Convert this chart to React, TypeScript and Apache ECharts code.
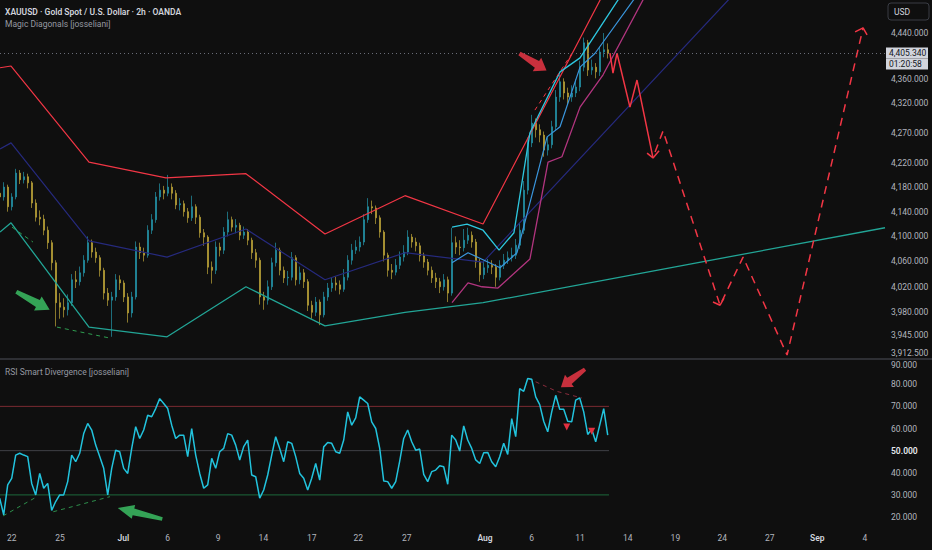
import React, { useEffect, useRef } from "react";
import * as echarts from "echarts";

// ---------- DATA ----------
// x is measured in trading sessions from the "22" (Jun 22) label; bars every 0.25 session
const BAR_START = -0.75;
const BAR_STEP = 0.25;
const FIRST_OPEN = 4170;

const closes = [
  4164, 4180, 4148, 4164, 4203, 4192, 4197, 4187, 4154, 4131,
  4128, 4110, 4090, 4058, 3995, 3988, 3984, 3995, 4031, 4028,
  4042, 4062, 4090, 4075, 4066, 4046, 4010, 3999, 4004, 4031,
  4026, 4004, 3979, 4004, 4083, 4074, 4070, 4110, 4127, 4164,
  4175, 4170, 4180, 4170, 4151, 4153, 4140, 4130, 4148, 4131,
  4106, 4099, 4051, 4046, 4083, 4078, 4107, 4127, 4115, 4118,
  4102, 4107, 4094, 4074, 4062, 4004, 3999, 4020, 4058, 4078,
  4046, 4034, 4035, 4066, 4031, 4042, 4028, 3991, 3980, 3996,
  3976, 4004, 4018, 4026, 4023, 4016, 4035, 4062, 4078, 4083,
  4091, 4127, 4148, 4146, 4130, 4107, 4070, 4046, 4043, 4054,
  4067, 4075, 4099, 4091, 4085, 4069, 4059, 4046, 4034, 4028,
  4020, 4031, 4010, 4090, 4083, 4082, 4094, 4102, 4091, 4059,
  4039, 4050, 4054, 4051, 4035, 4054, 4062, 4066, 4070, 4086,
  4110, 4175, 4253, 4286, 4275, 4266, 4241, 4250, 4280, 4330,
  4356, 4337, 4330, 4337, 4347, 4381, 4423, 4376, 4381, 4373,
  4407, 4411, 4405.34,
];
const highs = [
  4178, 4188, 4184, 4170, 4210, 4208, 4205, 4202, 4190, 4160,
  4142, 4135, 4116, 4094, 4062, 4010, 4002, 4008, 4040, 4045,
  4052, 4070, 4100, 4095, 4082, 4070, 4050, 4018, 4012, 4040,
  4038, 4030, 4010, 4012, 4092, 4090, 4082, 4118, 4136, 4172,
  4186, 4182, 4200, 4186, 4175, 4162, 4158, 4146, 4166, 4152,
  4135, 4112, 4102, 4060, 4092, 4090, 4115, 4140, 4132, 4128,
  4122, 4116, 4112, 4098, 4080, 4066, 4012, 4030, 4066, 4090,
  4082, 4052, 4045, 4075, 4070, 4052, 4048, 4032, 3998, 4004,
  4000, 4012, 4026, 4034, 4036, 4030, 4048, 4070, 4088, 4094,
  4100, 4136, 4162, 4158, 4150, 4134, 4110, 4074, 4056, 4064,
  4076, 4086, 4110, 4104, 4098, 4090, 4074, 4064, 4052, 4042,
  4034, 4040, 4036, 4114, 4100, 4094, 4112, 4114, 4108, 4096,
  4064, 4060, 4064, 4062, 4056, 4062, 4072, 4076, 4082, 4096,
  4122, 4190, 4262, 4300, 4294, 4284, 4272, 4264, 4290, 4342,
  4368, 4362, 4346, 4350, 4360, 4392, 4432, 4428, 4394, 4388,
  4416, 4440, 4422,
];
const lows = [
  4150, 4158, 4140, 4142, 4160, 4185, 4186, 4178, 4146, 4124,
  4118, 4102, 4080, 4046, 3958, 3970, 3972, 3975, 3990, 4018,
  4022, 4036, 4058, 4066, 4058, 4036, 4000, 3990, 3942, 3998,
  4015, 3996, 3964, 3972, 4000, 4064, 4060, 4066, 4104, 4122,
  4158, 4160, 4165, 4160, 4144, 4142, 4132, 4122, 4125, 4120,
  4098, 4085, 4040, 4025, 4040, 4068, 4072, 4100, 4108, 4105,
  4094, 4096, 4086, 4064, 4050, 3992, 3984, 3992, 4015, 4052,
  4038, 4026, 4022, 4030, 4022, 4024, 4018, 3982, 3970, 3974,
  3960, 3972, 3998, 4012, 4014, 4008, 4012, 4030, 4055, 4072,
  4076, 4086, 4122, 4136, 4120, 4098, 4060, 4036, 4032, 4038,
  4048, 4060, 4070, 4082, 4076, 4060, 4050, 4038, 4026, 4018,
  4010, 4014, 3996, 4006, 4072, 4070, 4076, 4088, 4082, 4050,
  4028, 4032, 4042, 4040, 4020, 4030, 4048, 4056, 4060, 4064,
  4080, 4104, 4168, 4246, 4262, 4254, 4230, 4232, 4244, 4274,
  4322, 4326, 4318, 4322, 4330, 4340, 4374, 4366, 4368, 4362,
  4366, 4398, 4396,
];
const rsiValues = [
  28.5, 21.0, 34.5, 37.5, 48.0, 48.8, 48.0, 47.3, 35.2, 30.0,
  39.7, 33.0, 35.2, 23.0, 27.0, 30.0, 30.0, 36.0, 48.0, 45.0,
  48.8, 57.7, 62.3, 59.3, 52.5, 47.3, 42.0, 30.0, 42.0, 50.2,
  49.5, 42.0, 39.7, 51.0, 60.8, 55.5, 59.3, 66.0, 65.3, 69.0,
  73.5, 71.3, 69.0, 61.5, 55.5, 57.0, 57.0, 47.3, 60.0, 48.0,
  39.7, 33.0, 34.5, 46.5, 42.0, 49.5, 51.0, 57.7, 57.0, 52.5,
  45.8, 51.8, 54.8, 39.0, 38.2, 28.5, 32.2, 39.0, 48.0, 56.3,
  51.0, 45.0, 54.0, 53.3, 47.3, 39.7, 37.5, 32.2, 37.5, 44.2,
  36.7, 51.7, 53.7, 53.3, 49.5, 48.8, 54.8, 67.5, 61.5, 64.8,
  74.3, 72.8, 71.3, 63.0, 60.0, 51.0, 36.3, 36.0, 33.0, 36.0,
  45.3, 55.5, 59.3, 54.0, 50.2, 50.7, 39.3, 36.0, 40.5, 41.2,
  43.2, 42.7, 34.8, 57.0, 54.8, 49.8, 61.2, 54.8, 51.0, 45.8,
  44.2, 49.0, 49.2, 45.0, 42.7, 47.2, 53.3, 48.3, 64.5, 56.3,
  78.0, 76.8, 82.6, 82.3, 74.3, 70.8, 63.3, 58.5, 67.5, 75.0,
  68.7, 68.7, 63.3, 63.0, 72.8, 73.8, 67.5, 57.3, 59.7, 54.0,
  61.5, 69.0, 57.0,
];

const dateTickPos = [0, 3.02, 6.98, 9.75, 12.91, 15.73, 18.75, 21.66, 24.69, 29.58, 32.5, 35.52, 38.5, 41.48, 44.41, 47.38, 50.35, 53.33];
const dateTickLabels = ["22", "25", "Jul", "6", "9", "14", "17", "22", "27", "Aug", "6", "11", "14", "19", "24", "27", "Sep", "4"];
const monthNames = ["Jul", "Aug", "Sep"];
const priceTicks = [3912.5, 3945, 3980, 4020, 4060, 4100, 4140, 4180, 4220, 4270, 4320, 4360, 4440];
const rsiTicks = [20, 30, 40, 50, 60, 70, 80, 90];
const LAST_PRICE = 4405.34;
const COUNTDOWN = "01:20:58";

const X_MIN = -0.731;
const X_MAX = 54.58;
const PRICE_MIN = 3909.4;
const PRICE_MAX = 4497.8;
const RSI_MIN = 16.4;
const RSI_MAX = 90.5;
const RSI_END = 37.33;

// diagonals [session, price]
const redDiagonal = [[-0.73, 4380], [-0.04, 4383], [4.83, 4221], [9.64, 4195], [14.64, 4202], [19.58, 4104], [24.58, 4166], [29.46, 4120], [37.39, 4531]];
const navyDiagonal = [[-0.73, 4243], [-0.04, 4253], [4.83, 4093], [9.71, 4067], [14.64, 4112], [19.58, 4031], [24.58, 4074], [29.46, 4059], [46.77, 4558]];
const tealDiagonal = [[-0.73, 4107], [-0.04, 4122], [4.83, 3957], [9.71, 3942], [14.64, 4020], [19.58, 3959], [24.58, 3980], [29.46, 3995], [54.58, 4114]];
const cyanBand = [[27.52, 4115], [28.46, 4120], [29.46, 4110], [30.46, 4078], [31.39, 4106], [32.39, 4270], [34.27, 4373], [35.52, 4397], [38.64, 4530]];
const blueBand = [[27.52, 4058], [28.52, 4074], [30.52, 4050], [31.58, 4074], [33.46, 4263], [34.27, 4280], [35.52, 4381], [36.46, 4405], [39.58, 4526]];
const magentaBand = [[27.52, 3995], [28.52, 4026], [29.39, 4020], [30.39, 4018], [32.39, 4064], [33.52, 4221], [34.39, 4230], [35.52, 4313], [36.96, 4368], [40.21, 4538]];
const redDashTop = [[32.7, 4308], [35.02, 4405]];
const greenDashA = [[0.02, 4115], [1.33, 4091]];
const greenDashB = [[2.83, 3957], [6.14, 3940]];
const projectionSolid = [[37.39, 4405], [37.58, 4371], [37.83, 4405], [38.64, 4313], [39.08, 4359], [40.08, 4228]];
const projectionSolidHead = [[39.71, 4236], [40.08, 4228], [40.46, 4240]];
const projectionDashed = [[40.21, 4238], [40.71, 4273], [44.27, 3991], [45.71, 4067], [48.46, 3914], [53.21, 4449]];
const projectionHeadLow = [[43.83, 3996], [44.27, 3991], [44.52, 4002]];
const projectionHeadTop = [[52.71, 4442], [53.21, 4449], [53.46, 4437]];

const rsiGreenDashA = [[-0.54, 20.5], [1.46, 28.7]];
const rsiGreenDashB = [[2.6, 22.4], [6.14, 29.2]];
const rsiRedDash = [[32.29, 82.6], [34.06, 76.8], [35.63, 73.8]];
const rsiLevels = [
  { value: 70, color: "#7a2a31" },
  { value: 50, color: "#3f4046" },
  { value: 30, color: "#1d6a3c" },
];

const mainArrows = [
  { at: [1.33, 3998], rot: -28.6, size: [38, 16], color: "#34a356" },
  { at: [32.58, 4390], rot: -32, size: [32, 16], color: "#c8303d" },
];
const rsiArrows = [
  { at: [35.08, 82.7], rot: -143.5, size: [30, 15], color: "#c8303d" },
  { at: [8.02, 21.6], rot: 166, size: [46, 14], color: "#34a356" },
];
const rsiTriangles = [[34.69, 60.7], [36.25, 58.8]];

// ---------- STYLE ----------
const BG = "#0f0f0f";
const UP = "#2496aa";
const DOWN = "#bfa63a";
const FONT = "Roboto";
const AXIS_TXT = "#b2b5be";
const ARROW = "path://M0,6 L22,4 L22,0 L34,8 L22,16 L22,12 L0,10 Z";

const fmt3 = (v: number) =>
  Number(v).toLocaleString("en-US", { minimumFractionDigits: 3, maximumFractionDigits: 3 });

function line(data: number[][], color: string, width: number, dash: any = "solid", axis = 0, extra: any = {}) {
  return {
    type: "line",
    xAxisIndex: axis,
    yAxisIndex: axis,
    data,
    symbol: "none",
    showSymbol: false,
    silent: true,
    clip: true,
    z: 3,
    lineStyle: { color, width, type: dash },
    ...extra,
  };
}

function buildOption() {
  const candleData = closes.map((c, i) => {
    const o = i === 0 ? FIRST_OPEN : closes[i - 1];
    return [BAR_START + i * BAR_STEP, o, c, lows[i], highs[i]];
  });
  const rsiData = rsiValues.map((v, i) => [BAR_START + i * BAR_STEP, v]);

  const arrowPoints = (list: any[]) =>
    list.map((a) => ({
      coord: a.at,
      symbol: ARROW,
      symbolSize: a.size,
      symbolRotate: a.rot,
      itemStyle: { color: a.color },
    }));

  const series: any[] = [
    {
      type: "candlestick",
      xAxisIndex: 0,
      yAxisIndex: 0,
      data: candleData,
      barWidth: 1.5,
      z: 2,
      silent: true,
      itemStyle: { color: UP, color0: DOWN, borderColor: UP, borderColor0: DOWN, borderWidth: 0.7 },
      markLine: {
        silent: true,
        symbol: ["none", "none"],
        lineStyle: { color: "#6a6d78", type: [1, 3], width: 1 },
        label: {
          show: true,
          position: "end",
          distance: 1,
          formatter: `{s| }\n{a|${fmt3(LAST_PRICE)}}\n{b|${COUNTDOWN}}`,
          rich: {
            s: { lineHeight: 11, fontSize: 8 },
            a: { backgroundColor: "#d1d4dc", color: "#131722", fontSize: 8.5, fontFamily: FONT, lineHeight: 11, height: 11, width: 36, padding: [0, 3] },
            b: { backgroundColor: "#d1d4dc", color: "#131722", fontSize: 8.5, fontFamily: FONT, lineHeight: 11, height: 11, width: 36, padding: [0, 3] },
          },
        },
        data: [{ yAxis: LAST_PRICE }],
      },
    },
    line(redDiagonal, "#f23645", 1.2),
    line(navyDiagonal, "#262a7e", 1.2),
    line(tealDiagonal, "#22a596", 1.3, "solid", 0, {
      markPoint: { silent: true, label: { show: false }, data: arrowPoints(mainArrows) },
    }),
    line(cyanBand, "#2ec8e0", 1.3),
    line(blueBand, "#3a96dd", 1.2),
    line(magentaBand, "#b2357f", 1.3),
    line(redDashTop, "#f23645", 1, [4, 4]),
    line(greenDashA, "#2e9d50", 1, [4, 4]),
    line(greenDashB, "#2e9d50", 1, [4, 4]),
    line(projectionSolid, "#f23645", 1.5),
    line(projectionSolidHead, "#f23645", 1.5),
    line(projectionDashed, "#f23645", 1.5, [8, 6]),
    line(projectionHeadLow, "#f23645", 1.5),
    line(projectionHeadTop, "#f23645", 1.5),
    // RSI pane
    ...rsiLevels.map((l) => line([[X_MIN, l.value], [RSI_END, l.value]], l.color, 1, "solid", 1, { z: 1 })),
    line(rsiGreenDashA, "#2e8f4c", 1, [4, 4], 1),
    line(rsiGreenDashB, "#2e8f4c", 1, [4, 4], 1),
    line(rsiRedDash, "#8a2c3c", 1, [4, 4], 1),
    line(rsiData, "#22c3dd", 1.5, "solid", 1, {
      markPoint: {
        silent: true,
        label: { show: false },
        data: [
          ...arrowPoints(rsiArrows),
          ...rsiTriangles.map((t) => ({
            coord: t,
            symbol: "triangle",
            symbolSize: 7,
            symbolRotate: 180,
            itemStyle: { color: "#e0303f" },
          })),
        ],
      },
    }),
  ];

  const hidden = { axisLine: { show: false }, axisTick: { show: false }, splitLine: { show: false } };

  return {
    animation: false,
    backgroundColor: BG,
    textStyle: { fontFamily: FONT },
    grid: [
      { left: 0, right: 47, top: 0, height: 358 },
      { left: 0, right: 47, top: 361, height: 164 },
    ],
    xAxis: [
      { type: "value", gridIndex: 0, min: X_MIN, max: X_MAX, show: false },
      {
        type: "value",
        gridIndex: 1,
        min: X_MIN,
        max: X_MAX,
        ...hidden,
        axisLabel: {
          customValues: dateTickPos,
          margin: 8,
          color: AXIS_TXT,
          fontSize: 8.5,
          fontFamily: FONT,
          formatter: (v: number) => {
            const i = dateTickPos.findIndex((t) => Math.abs(t - v) < 1e-3);
            const s = i >= 0 ? dateTickLabels[i] : "";
            return monthNames.includes(s) ? `{m|${s}}` : s;
          },
          rich: { m: { fontWeight: 600, color: "#d1d4dc", fontSize: 8.5, fontFamily: FONT } },
        },
      },
    ],
    yAxis: [
      {
        type: "log",
        logBase: 10,
        gridIndex: 0,
        position: "right",
        min: PRICE_MIN,
        max: PRICE_MAX,
        ...hidden,
        axisLabel: {
          customValues: priceTicks,
          margin: 6,
          color: AXIS_TXT,
          fontSize: 8.5,
          fontFamily: FONT,
          formatter: (v: number) => (v < priceTicks[1] - 1 ? `{lo|${fmt3(v)}}` : fmt3(v)),
          rich: { lo: { color: AXIS_TXT, fontSize: 8.5, fontFamily: FONT, padding: [0, 0, 5, 0] } },
        },
      },
      {
        type: "value",
        gridIndex: 1,
        position: "right",
        min: RSI_MIN,
        max: RSI_MAX,
        ...hidden,
        axisLabel: {
          customValues: rsiTicks,
          margin: 6,
          color: AXIS_TXT,
          fontSize: 8.5,
          fontFamily: FONT,
          formatter: (v: number) => {
            const r = Math.round(v);
            if (r === 50) return `{h|${fmt3(v)}}`;
            if (r === 90) return `{t|${fmt3(v)}}`;
            return fmt3(v);
          },
          rich: {
            h: { color: "#e6e8ee", fontWeight: 600, fontSize: 8.5, fontFamily: FONT },
            t: { color: AXIS_TXT, fontSize: 8.5, fontFamily: FONT, padding: [5, 0, 0, 0] },
          },
        },
      },
    ],
    graphic: [
      { type: "rect", silent: true, z: 100, shape: { x: 0, y: 358, width: 932, height: 2 }, style: { fill: "#2e2f34" } },
      {
        type: "text", x: 5, y: 11.5, z: 100, silent: true,
        style: { text: "XAUUSD · Gold Spot / U.S. Dollar · 2h · OANDA", fill: "#d1d4dc", fontSize: 8.5, fontWeight: 600, fontFamily: FONT, verticalAlign: "middle", textVerticalAlign: "middle" },
      },
      {
        type: "text", x: 5, y: 23.7, z: 100, silent: true,
        style: { text: "Magic Diagonals [josseliani]", fill: "#9598a1", fontSize: 8.5, fontFamily: FONT, verticalAlign: "middle", textVerticalAlign: "middle" },
      },
      {
        type: "text", x: 5, y: 371.7, z: 100, silent: true,
        style: { text: "RSI Smart Divergence [josseliani]", fill: "#9598a1", fontSize: 8.5, fontFamily: FONT, verticalAlign: "middle", textVerticalAlign: "middle" },
      },
      { type: "rect", silent: true, z: 100, shape: { x: 888, y: 3, width: 41, height: 17, r: 3 }, style: { fill: BG, stroke: "#3a3d45", lineWidth: 1 } },
      {
        type: "text", x: 894, y: 11.5, z: 101, silent: true,
        style: { text: "USD", fill: "#d1d4dc", fontSize: 8.5, fontFamily: FONT, verticalAlign: "middle", textVerticalAlign: "middle" },
      },
    ],
    series,
  };
}

export default function App() {
  const ref = useRef<HTMLDivElement>(null);
  useEffect(() => {
    if (!ref.current) return;
    const chart = echarts.init(ref.current, null, { renderer: "svg" });
    chart.setOption(buildOption() as any);
    return () => chart.dispose();
  }, []);
  return <div ref={ref} style={{ position: "fixed", left: 0, top: 0, width: 932, height: 550 }} />;
}
